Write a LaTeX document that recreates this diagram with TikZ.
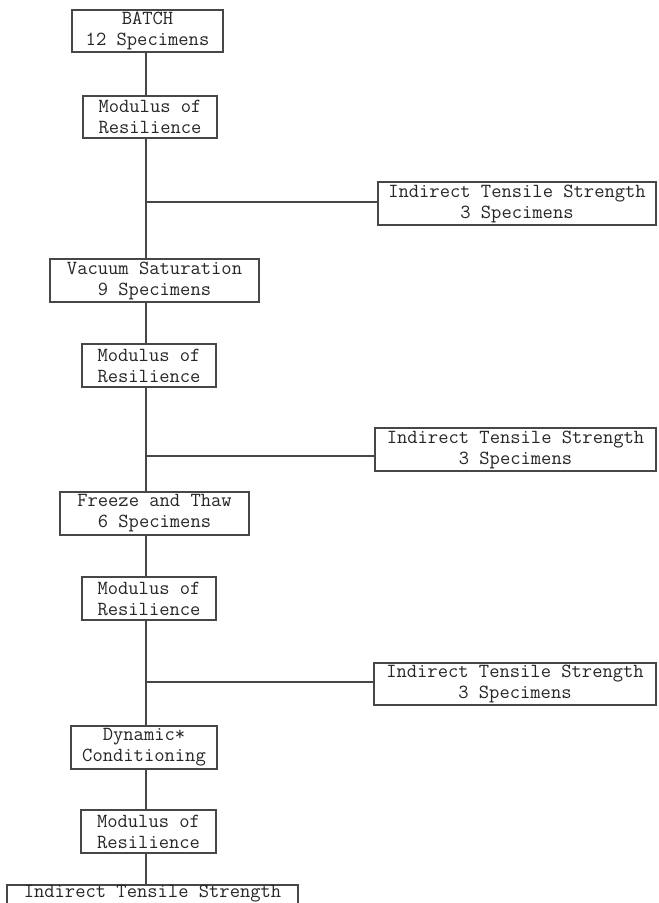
\documentclass[tikz,border=0pt]{standalone}
\usepackage{fontspec}
\begin{document}
\begin{tikzpicture}[x=1pt,y=-1pt,
  line width=1.1pt,
  box/.style={draw=black!72, align=center, inner sep=0pt, minimum height=43pt,
    font=\ttfamily\fontsize{20}{21}\selectfont, text=black!85},
  conn/.style={draw=black!72, line width=1.1pt}]
\useasboundingbox (0,0) rectangle (659,903);
\fill[white] (0,0) rectangle (659,903);

\coordinate (sp) at (146,0);

\node[box, minimum width=151pt, minimum height=42pt] (batch) at (147.5,31) {BATCH\\12 Specimens};
\node[box, minimum width=134pt, minimum height=42pt] (mr1) at (150,117) {Modulus of\\Resilience};
\node[box, minimum width=278pt] (its1) at (517,203.5) {Indirect Tensile Strength\\3 Specimens};
\node[box, minimum width=209pt] (vs) at (154.5,280.5) {Vacuum Saturation\\9 Specimens};
\node[box, minimum width=134pt] (mr2) at (149,365.5) {Modulus of\\Resilience};
\node[box, minimum width=281pt] (its2) at (515.5,449.5) {Indirect Tensile Strength\\3 Specimens};
\node[box, minimum width=189pt] (ft) at (154.5,513.5) {Freeze and Thaw\\6 Specimens};
\node[box, minimum width=134pt] (mr3) at (149,598.5) {Modulus of\\Resilience};
\node[box, minimum width=282pt, minimum height=42pt] (its3) at (515,684) {Indirect Tensile Strength\\3 Specimens};
\node[box, minimum width=146pt] (dc) at (144,747.5) {Dynamic*\\Conditioning};
\node[box, minimum width=135pt] (mr4) at (148.5,831.5) {Modulus of\\Resilience};
\node[box, minimum width=291pt, minimum height=0pt, inner ysep=0pt, text height=12pt, text depth=10pt, anchor=base] (itsf) at (152.5,897) {Indirect Tensile Strength};

\coordinate (b1) at (146,202);
\coordinate (b2) at (146,456);
\coordinate (b3) at (146,682);

\draw[conn] (batch.south -| sp) -- (mr1.north -| sp);
\draw[conn] (mr1.south -| sp) -- (vs.north -| sp);
\draw[conn] (vs.south -| sp) -- (mr2.north -| sp);
\draw[conn] (mr2.south -| sp) -- (ft.north -| sp);
\draw[conn] (ft.south -| sp) -- (mr3.north -| sp);
\draw[conn] (mr3.south -| sp) -- (dc.north -| sp);
\draw[conn] (dc.south -| sp) -- (mr4.north -| sp);
\draw[conn] (mr4.south -| sp) -- (itsf.north -| sp);
\draw[conn] (b1) -- (b1 -| its1.west);
\draw[conn] (b2) -- (b2 -| its2.west);
\draw[conn] (b3) -- (b3 -| its3.west);
\end{tikzpicture}
\end{document}
